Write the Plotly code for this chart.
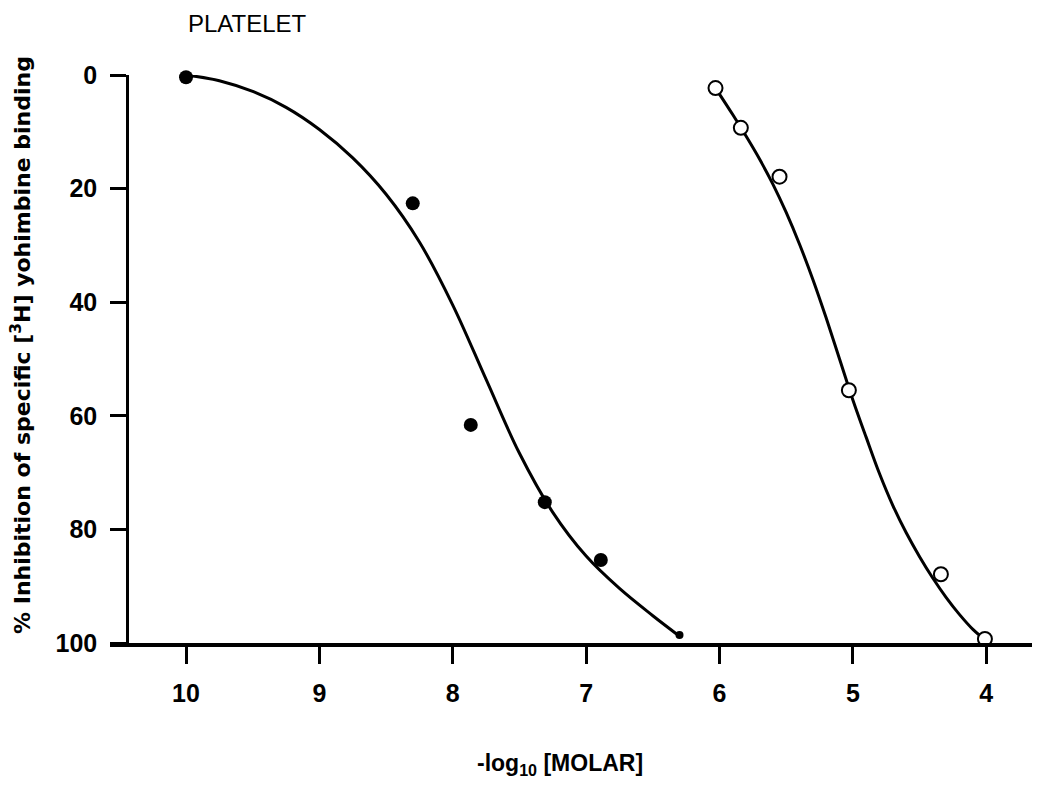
import plotly.graph_objects as go

# Data
filled_x = [10.0, 8.30, 7.865, 7.31, 6.89]
filled_y = [0.4, 22.6, 61.6, 75.2, 85.4]

open_x = [6.03, 5.84, 5.55, 5.03, 4.34, 4.01]
open_y = [2.3, 9.3, 17.9, 55.5, 87.9, 99.3]

curve_a_x = [10.0, 9.75, 9.5, 9.25, 9.0, 8.75, 8.5, 8.25, 8.0, 7.75, 7.5, 7.25, 7.0, 6.75, 6.5, 6.3]
curve_a_y = [0.0, 1.0, 2.9, 5.7, 9.6, 14.6, 21.0, 29.4, 40.5, 53.6, 66.6, 77.0, 84.7, 90.4, 95.2, 98.8]

curve_b_x = [6.03, 5.9, 5.8, 5.7, 5.6, 5.5, 5.4, 5.3, 5.2, 5.1, 5.0, 4.9, 4.8, 4.7, 4.6, 4.5, 4.4, 4.3, 4.2, 4.1, 4.0]
curve_b_y = [2.3, 7.0, 10.8, 14.8, 19.2, 24.2, 29.8, 36.0, 42.8, 50.0, 57.2, 63.8, 70.2, 75.8, 80.6, 84.8, 88.6, 92.0, 95.0, 97.6, 99.6]

end_mark_x = [6.3]
end_mark_y = [98.6]

x_ticks = [10, 9, 8, 7, 6, 5, 4]
y_ticks = [0, 20, 40, 60, 80, 100]

FONT = "Liberation Sans"

fig = go.Figure()

for cx, cy in ((curve_a_x, curve_a_y), (curve_b_x, curve_b_y)):
    fig.add_trace(go.Scatter(x=cx, y=cy, mode="lines",
                             line=dict(color="black", width=3, shape="spline", smoothing=1.0),
                             showlegend=False, hoverinfo="skip"))
fig.add_trace(go.Scatter(x=end_mark_x, y=end_mark_y, mode="markers",
                         marker=dict(color="black", size=8),
                         cliponaxis=False, showlegend=False))
fig.add_trace(go.Scatter(x=filled_x, y=filled_y, mode="markers",
                         marker=dict(color="black", size=14, line=dict(color="black", width=0)),
                         cliponaxis=False, showlegend=False))
fig.add_trace(go.Scatter(x=open_x, y=open_y, mode="markers",
                         marker=dict(color="white", size=14, line=dict(color="black", width=2)),
                         cliponaxis=False, showlegend=False))

fig.update_layout(
    width=1032, height=778,
    margin=dict(l=102, r=0, t=67, b=143),
    paper_bgcolor="white", plot_bgcolor="white",
    font=dict(family=FONT, color="black"),
    xaxis=dict(range=[10.57, 3.597], tickvals=x_ticks, ticktext=[str(v) for v in x_ticks],
               showgrid=False, zeroline=False, showline=True, linecolor="black", linewidth=4,
               ticks="outside", ticklen=17, tickwidth=3, tickcolor="black",
               ticklabelstandoff=8,
               tickfont=dict(family=FONT, size=25, color="black", weight="bold")),
    yaxis=dict(range=[100, 0], tickvals=y_ticks, ticktext=[str(v) for v in y_ticks],
               anchor="free", position=(127 - 110) / 930,
               showgrid=False, zeroline=False, showline=True, linecolor="black", linewidth=2.5,
               ticks="outside", ticklen=16, tickwidth=2.5, tickcolor="black",
               ticklabelstandoff=8,
               tickfont=dict(family=FONT, size=25, color="black", weight="bold")),
    annotations=[
        dict(text="PLATELET", xref="paper", yref="paper",
             x=(186 - 110) / 930, y=(643 - 24) / 568, xanchor="left", yanchor="middle",
             showarrow=False, font=dict(family=FONT, size=24, color="black")),
        dict(text="% Inhibition of specific [<sup>3</sup>H] yohimbine binding",
             xref="paper", yref="paper", x=(21 - 110) / 930, y=(643 - 345) / 568,
             xanchor="center", yanchor="middle", textangle=-90, showarrow=False,
             font=dict(family="DejaVu Sans", size=22, color="black", weight="bold")),
        dict(text="-log<sub>10</sub> [MOLAR]", xref="paper", yref="paper",
             x=(560 - 110) / 930, y=(643 - 764) / 568, xanchor="center", yanchor="middle",
             showarrow=False, font=dict(family=FONT, size=23, color="black", weight="bold")),
    ],
)

fig.write_html("out.html")
